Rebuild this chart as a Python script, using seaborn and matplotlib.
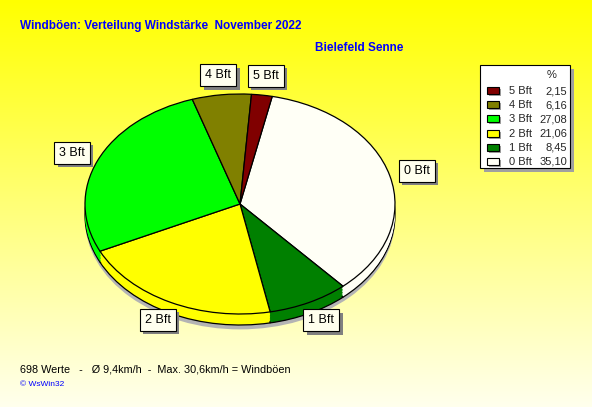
#!/usr/bin/env python3
"""Windböen: Verteilung Windstärke als Tortendiagramm."""

import matplotlib
matplotlib.use("Agg")
import matplotlib.pyplot as plt
import matplotlib.patheffects as pe
from matplotlib.patches import Rectangle, Ellipse
import numpy as np
import seaborn as sns

# Daten
CATEGORIES = ["0 Bft", "1 Bft", "2 Bft", "3 Bft", "4 Bft", "5 Bft"]
PERCENT = [35.10, 8.45, 21.06, 27.08, 6.16, 2.15]
COLORS = ["#FFFFF6", "#008000", "#FFFF00", "#00FF00", "#808000", "#800000"]

TITLE = "Windböen: Verteilung Windstärke  November 2022"
STATION = "Bielefeld Senne"
FOOTER = "698 Werte   -   Ø 9,4km/h  -  Max. 30,6km/h = Windböen"
CREDIT = "© WsWin32"

W, H = 592, 407
BLUE = "#0000FF"


def fig_pos(left, top, width, height):
    """Pixel box -> figure fraction rect."""
    return [left / W, 1 - (top + height) / H, width / W, height / H]


def main():
    sns.set_theme(style="white")
    plt.rcParams["font.family"] = ["Liberation Sans", "DejaVu Sans"]

    fig = plt.figure(figsize=(W / 100, H / 100), dpi=100)

    # background gradient yellow -> pale ivory
    bg = fig.add_axes([0, 0, 1, 1], zorder=0)
    t = np.linspace(0, 1, 256)[:, None]
    top = np.array([1.0, 1.0, 0.0])
    bottom = np.array([1.0, 1.0, 0.93])
    grad = top + (bottom - top) * t[..., None]
    grad = np.repeat(grad, 2, axis=1)
    bg.imshow(grad, aspect="auto", extent=(0, 1, 0, 1), origin="upper")
    bg.set_axis_off()

    # pie: centre (240, 204) px, radii 155 x 110 px
    cx, cy, rx, ry = 240, 204, 155, 110
    ax = fig.add_axes(fig_pos(cx - 1.5 * rx, cy - 1.5 * ry, 3 * rx, 3 * ry), zorder=1)
    ax.patch.set_alpha(0)

    # shadow below the pie
    ax.add_patch(Ellipse((0.0, -0.14), 2.0, 2.0, facecolor="#B4B4B4", edgecolor="none"))

    # side of the disc
    depth = 0.1
    offsets = np.linspace(depth, 0.0, 8)[:-1]
    for k, off in enumerate(offsets):
        ax.pie(
            PERCENT,
            colors=COLORS,
            startangle=78,
            counterclock=False,
            center=(0, -off),
            wedgeprops=dict(edgecolor="black" if k == 0 else "none", linewidth=0.9),
        )

    wedges, texts = ax.pie(
        PERCENT,
        colors=COLORS,
        labels=CATEGORIES,
        labeldistance=1.18,
        startangle=78,
        counterclock=False,
        wedgeprops=dict(edgecolor="black", linewidth=0.9),
        textprops=dict(fontsize=9, color="black"),
    )
    for txt in texts:
        txt.set_ha("center")
        txt.set_va("center")
        txt.set_bbox(dict(boxstyle="square,pad=0.4", facecolor="#FFFFEE",
                          edgecolor="black", linewidth=0.8))
        txt.get_bbox_patch().set_path_effects(
            [pe.SimplePatchShadow(offset=(2.5, -2.5), shadow_rgbFace="#808080", alpha=1.0),
             pe.Normal()]
        )

    ax.set_aspect("auto")
    ax.set_xlim(-1.5, 1.5)
    ax.set_ylim(-1.5, 1.5)
    ax.set_axis_off()

    # overlay in pixel coordinates for texts and legend
    ov = fig.add_axes([0, 0, 1, 1], zorder=2)
    ov.patch.set_alpha(0)
    ov.set_xlim(0, W)
    ov.set_ylim(H, 0)
    ov.set_axis_off()

    ov.text(20, 26, TITLE, color=BLUE, fontsize=8.5, fontweight="bold", va="center")
    ov.text(315, 48, STATION, color=BLUE, fontsize=8.5, fontweight="bold", va="center")
    ov.text(20, 369, FOOTER, color="black", fontsize=7.8, va="center")
    ov.text(20, 384, CREDIT, color=BLUE, fontsize=6, va="center")

    # legend box
    lx, ly, lw, lh = 480, 65, 90, 103
    ov.add_patch(Rectangle((lx + 4, ly + 4), lw, lh, facecolor="#A0A0A0", edgecolor="none"))
    ov.add_patch(Rectangle((lx, ly), lw, lh, facecolor="white", edgecolor="black", linewidth=0.8))
    ov.text(552, 75, "%", fontsize=8, ha="center", va="center")
    for i, idx in enumerate(reversed(range(len(CATEGORIES)))):
        yy = 91 + 14.2 * i
        ov.add_patch(Rectangle((489, yy - 2), 12, 7, facecolor="#A0A0A0", edgecolor="none"))
        ov.add_patch(Rectangle((487, yy - 4), 12, 7, facecolor=COLORS[idx],
                               edgecolor="black", linewidth=0.8))
        ov.text(509, yy, CATEGORIES[idx], fontsize=8, va="center")
        ov.text(567, yy, f"{PERCENT[idx]:.2f}".replace(".", ","), fontsize=8,
                ha="right", va="center")

    fig.savefig("out.png", dpi=100)
    plt.close(fig)


if __name__ == "__main__":
    main()
